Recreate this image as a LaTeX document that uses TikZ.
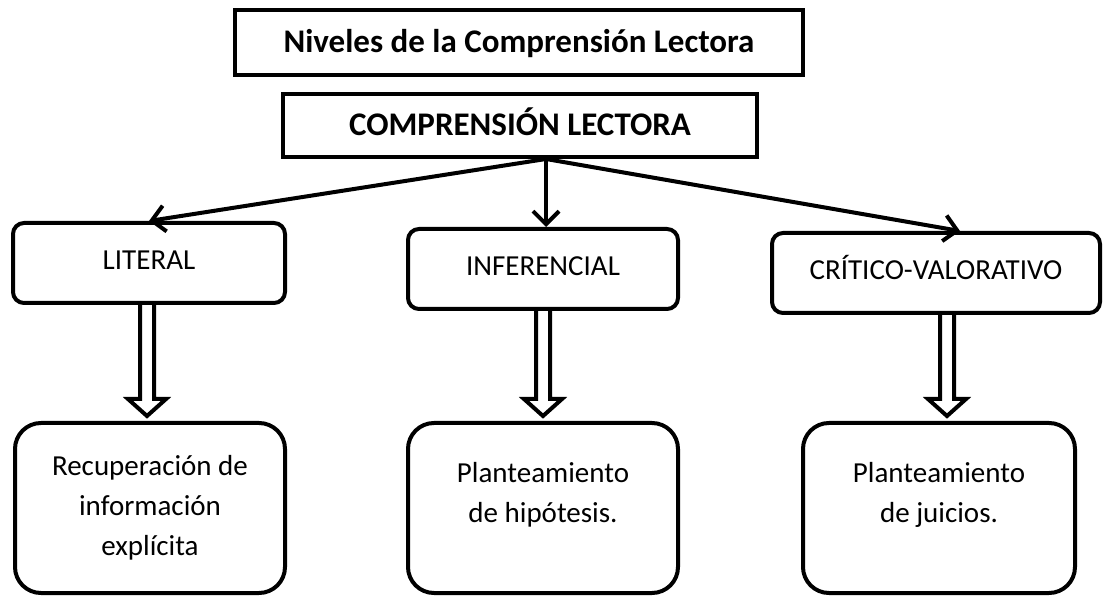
\documentclass[tikz,border=0pt]{standalone}
\usepackage{fontspec}
\setmainfont{Carlito}
\usetikzlibrary{calc,arrows.meta}

% hollow block arrow between two points
\newcommand{\hollowarrow}[2]{%
  \draw[hollow] ($(#1)+(-7,0)$) -- ($(#2)+(-7,22)$) -- ($(#2)+(-19,22)$)
    -- ($(#2)+(0,5)$) -- ($(#2)+(19,22)$) -- ($(#2)+(7,22)$) -- ($(#1)+(7,0)$);}

\begin{document}
\begin{tikzpicture}[x=1pt,y=1pt,
  headbox/.style={draw,line width=4pt,inner sep=0pt,text height=22pt,text depth=1pt,
    font=\fontsize{33}{38}\selectfont\bfseries},
  levelbox/.style={draw,line width=4pt,rounded corners=11pt,minimum height=80pt,inner sep=0pt,
    text height=16pt,text depth=3pt,font=\fontsize{29}{39}\selectfont},
  resultbox/.style={draw,line width=4pt,rounded corners=26pt,minimum width=270pt,minimum height=170pt,
    inner sep=0pt,align=center,font=\fontsize{29}{40}\selectfont},
  link/.style={line width=4pt,-{Straight Barb[length=13pt,width=26pt,line width=4pt]}},
  hollow/.style={line width=4pt,line join=miter}]
\useasboundingbox (0,0) rectangle (1109,595);

% titles
\node[headbox,minimum width=568pt,minimum height=65pt] (title) at (519,552.5) {Niveles de la Comprensión Lectora};
\node[headbox,minimum width=474pt,minimum height=63pt] (comp) at (520,469.5) {COMPRENSIÓN LECTORA};

% levels
\node[levelbox,minimum width=272pt] (lit) at (149,332) {LITERAL};
\node[levelbox,minimum width=270pt] (inf) at (543,326) {INFERENCIAL};
\node[levelbox,minimum width=328pt] (cri) at (936,322) {CRÍTICO-VALORATIVO};

% results
\node[resultbox] (rec) at (150,87) {Recuperación de\\información\\explícita};
\node[resultbox] (hip) at (543,87) {Planteamiento\\de hipótesis.\\[-20pt]\strut};
\node[resultbox,minimum width=272pt] (jui) at (939,87) {Planteamiento\\de juicios.\\[-20pt]\strut};

% arrows from the top box
\coordinate (hub) at ($(comp.south)+(26,0)$);
\coordinate (crin) at ($(cri.north)+(24,0)$);
\draw[link] (hub) -- (lit.north);
\draw[link] (hub) -- (hub |- inf.north);
\draw[link] (hub) -- (crin);

% hollow arrows down
\coordinate (c1) at ($(lit.south)+(-2,0)$);
\coordinate (c2) at (inf.south);
\coordinate (c3) at ($(cri.south)+(11,0)$);
\hollowarrow{c1}{c1 |- rec.north}
\hollowarrow{c2}{c2 |- hip.north}
\hollowarrow{c3}{c3 |- jui.north}
\end{tikzpicture}
\end{document}
